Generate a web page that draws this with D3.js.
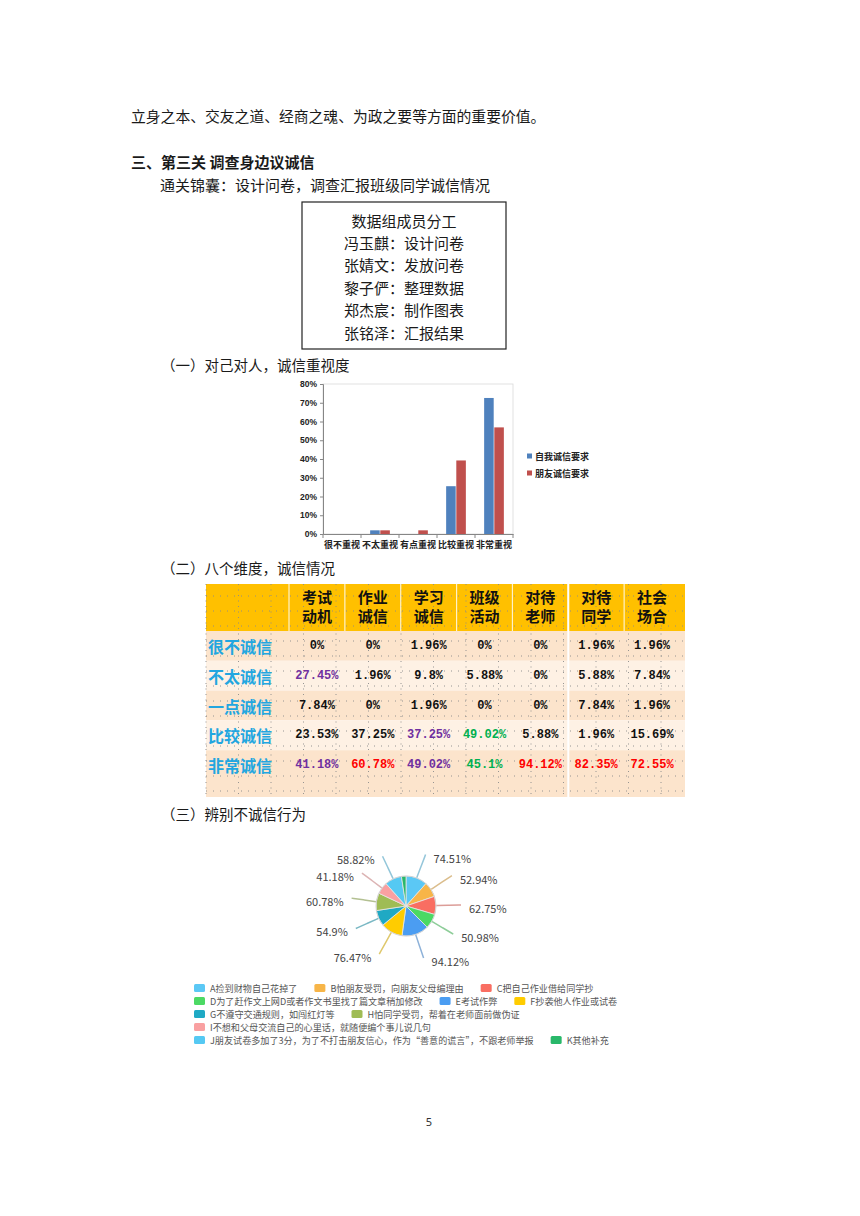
<!DOCTYPE html>
<html><head><meta charset="utf-8">
<script src="https://cdn.jsdelivr.net/npm/d3@7"></script>
<style>
html,body{margin:0;padding:0;background:#fff;}
svg{display:block;}
</style></head><body>
<svg id="page" width="860" height="1216"></svg>
<script>
// ================= DATA =================
const introLine = "立身之本、交友之道、经商之魂、为政之要等方面的重要价值。";
const sectionTitle = "三、第三关 调查身边议诚信";
const tipLine = "通关锦囊：设计问卷，调查汇报班级同学诚信情况";
const teamTitle = "数据组成员分工";
const teamMembers = ["冯玉麒：设计问卷", "张婧文：发放问卷", "黎子俨：整理数据", "郑杰宸：制作图表", "张铭泽：汇报结果"];
const subHeads = ["（一）对己对人，诚信重视度", "（二）八个维度，诚信情况", "（三）辨别不诚信行为"];
const pageNumber = "5";

// Bar chart
const barCategories = ["很不重视", "不太重视", "有点重视", "比较重视", "非常重视"];
const barSeries = ["自我诚信要求", "朋友诚信要求"];
const selfValues = [0, 0.0196, 0, 0.2549, 0.7255];
const friendValues = [0, 0.0196, 0.0196, 0.3922, 0.5686];
const barTicks = [0, 0.1, 0.2, 0.3, 0.4, 0.5, 0.6, 0.7, 0.8];

// Table
const tableColumns = [["考试", "动机"], ["作业", "诚信"], ["学习", "诚信"], ["班级", "活动"], ["对待", "老师"], ["对待", "同学"], ["社会", "场合"]];
const tableRows = ["很不诚信", "不太诚信", "一点诚信", "比较诚信", "非常诚信"];
const rowVeryDishonest = ["0%", "0%", "1.96%", "0%", "0%", "1.96%", "1.96%"];
const rowNotVery = ["27.45%", "1.96%", "9.8%", "5.88%", "0%", "5.88%", "7.84%"];
const rowLittle = ["7.84%", "0%", "1.96%", "0%", "0%", "7.84%", "1.96%"];
const rowFairly = ["23.53%", "37.25%", "37.25%", "49.02%", "5.88%", "1.96%", "15.69%"];
const rowVery = ["41.18%", "60.78%", "49.02%", "45.1%", "94.12%", "82.35%", "72.55%"];
const tableValues = [rowVeryDishonest, rowNotVery, rowLittle, rowFairly, rowVery];

// Pie
const pieKeys = ["A", "B", "C", "D", "E", "F", "G", "H", "I", "J", "K"];
const pieNames = [
  "A捡到财物自己花掉了",
  "B怕朋友受罚，向朋友父母编理由",
  "C把自己作业借给同学抄",
  "D为了赶作文上网D或者作文书里找了篇文章稍加修改",
  "E考试作弊",
  "F抄袭他人作业或试卷",
  "G不遵守交通规则，如闯红灯等",
  "H怕同学受罚，帮着在老师面前做伪证",
  "I不想和父母交流自己的心里话，就随便编个事儿说几句",
  "J朋友试卷多加了3分，为了不打击朋友信心，作为\u201C善意的谎言\u201D，不跟老师举报",
  "K其他补充"
];
const pieValues = [74.51, 52.94, 62.75, 50.98, 94.12, 76.47, 54.9, 60.78, 41.18, 58.82, 15.69];

// ================= STYLE =================
const CJK = "'Noto Sans CJK SC','Noto Sans',sans-serif";
const TEXT = "#1a1a1a";
const barColors = ["#4F81BD", "#C0504D"];
const pieColors = ["#5BC8F5", "#F7B548", "#F96E62", "#4CD964", "#4B9DF2", "#FFCC00", "#1FA9C4", "#9FBC55", "#F9A0A1", "#55C9F3", "#29B86A"];
const cellColor = { "1-0": "#7030A0", "3-2": "#7030A0", "4-0": "#7030A0", "4-2": "#7030A0",
  "3-3": "#00B050", "4-3": "#00B050",
  "4-1": "#FF0000", "4-4": "#FF0000", "4-5": "#FF0000", "4-6": "#FF0000" };

const svg = d3.select("#page");

function text(x, y, s, o = {}) {
  return svg.append("text")
    .attr("x", x).attr("y", y)
    .attr("dominant-baseline", "central")
    .attr("text-anchor", o.anchor || "start")
    .style("font-family", o.font || CJK)
    .style("font-size", (o.size || 15) + "px")
    .style("font-weight", o.weight || "normal")
    .style("fill", o.fill || TEXT)
    .text(s);
}

// ---------- body text ----------
text(131, 115, introLine, { size: 14.8 });
text(131, 161, sectionTitle, { size: 15, weight: "bold" });
text(160, 184, tipLine, { size: 15 });

// team box
const box = { x0: 302, y0: 202, x1: 506, y1: 349 };
svg.append("rect").attr("x", box.x0).attr("y", box.y0)
  .attr("width", box.x1 - box.x0).attr("height", box.y1 - box.y0)
  .attr("fill", "none").attr("stroke", "#222").attr("stroke-width", 1.2);
const boxLines = [teamTitle].concat(teamMembers);
const boxY = d3.scalePoint().domain(d3.range(boxLines.length)).range([220, 332]);
boxLines.forEach((s, i) => text((box.x0 + box.x1) / 2, boxY(i), s, { size: 15, anchor: "middle" }));

text(161, 364, subHeads[0], { size: 14.5 });
text(161, 567, subHeads[1], { size: 14.5 });
text(161, 813, subHeads[2], { size: 14.5 });
text(429, 1121, pageNumber, { size: 11, anchor: "middle", font: "'Noto Sans',sans-serif", fill: "#333" });

// ---------- bar chart ----------
(function () {
  const g = svg.append("g");
  const x = d3.scaleBand().domain(barCategories).range([323, 513]);
  const xs = d3.scaleBand().domain(barSeries).range([0, x.bandwidth()]).paddingInner(0.06).paddingOuter(0.9);
  const y = d3.scaleLinear().domain([0, 0.8]).range([534, 384]);

  // plot area frame
  g.append("rect").attr("x", 323).attr("y", y(0.8)).attr("width", 513 - 323).attr("height", y(0) - y(0.8))
    .attr("fill", "none").attr("stroke", "#d9d9d9").attr("stroke-width", 0.8);

  const seriesVals = [selfValues, friendValues];
  barSeries.forEach((s, si) => {
    g.selectAll(null).data(barCategories).enter().append("rect")
      .attr("x", c => x(c) + xs(s))
      .attr("y", (c, i) => y(seriesVals[si][i]))
      .attr("width", xs.bandwidth())
      .attr("height", (c, i) => y(0) - y(seriesVals[si][i]))
      .attr("fill", barColors[si]);
  });

  const ya = g.append("g").attr("transform", "translate(323,0)")
    .call(d3.axisLeft(y).tickValues(barTicks).tickFormat(d3.format(".0%")).tickSize(3).tickPadding(3));
  ya.select(".domain").attr("stroke", "#868686");
  ya.selectAll(".tick line").attr("stroke", "#868686");
  ya.selectAll("text").style("font-family", "'Liberation Sans',Arial,sans-serif").style("font-size", "8.5px")
    .style("font-weight", "bold").style("fill", "#222");

  const xa = g.append("g").attr("transform", "translate(0,534)")
    .call(d3.axisBottom(x).tickSize(0).tickPadding(8));
  xa.select(".domain").attr("stroke", "#868686");
  xa.selectAll("text").style("font-family", CJK).style("font-size", "9px").style("font-weight", "bold").style("fill", "#222");
  const bounds = barCategories.map(c => x(c)).concat([x.range()[1]]);
  g.selectAll(null).data(bounds).enter().append("line")
    .attr("x1", d => d).attr("x2", d => d).attr("y1", 534).attr("y2", 538)
    .attr("stroke", "#868686");

  // legend
  const ly = d3.scalePoint().domain(barSeries).range([456, 473]);
  barSeries.forEach((s, i) => {
    g.append("rect").attr("x", 527).attr("y", ly(s) - 2.5).attr("width", 5).attr("height", 5).attr("fill", barColors[i]);
    g.append("text").attr("x", 535).attr("y", ly(s)).attr("dominant-baseline", "central")
      .style("font-family", CJK).style("font-size", "9px").style("font-weight", "bold").style("fill", "#222").text(s);
  });
})();

// ---------- table ----------
(function () {
  const g = svg.append("g");
  const left = 206, firstW = 83, right = 680, top = 584, headH = 47;
  const cx = d3.scaleBand().domain(d3.range(tableColumns.length)).range([left + firstW, right]);
  const ry = d3.scaleBand().domain(d3.range(tableRows.length)).range([top + headH, 780]);
  const bottom = 797;
  const peach = "#FCE4CC", light = "#FEF1E4";

  g.append("rect").attr("x", left).attr("y", top).attr("width", 685 - left).attr("height", headH).attr("fill", "#FFC000");
  tableRows.forEach((r, i) => {
    g.append("rect").attr("x", left).attr("y", ry(i)).attr("width", 685 - left).attr("height", ry.bandwidth())
      .attr("fill", i % 2 === 0 ? peach : light);
  });
  g.append("rect").attr("x", left).attr("y", 780).attr("width", 685 - left).attr("height", bottom - 780).attr("fill", peach);

  // dotted excel-like grid
  const dotV = d3.range(left, 686, 32.5);
  g.selectAll(null).data(dotV).enter().append("line")
    .attr("x1", d => d).attr("x2", d => d).attr("y1", top).attr("y2", bottom)
    .attr("stroke", "#8a8a8a").attr("stroke-width", 0.9).attr("stroke-dasharray", "1,4.5");
  const dotH = d3.range(top + 12, bottom, 15);
  g.selectAll(null).data(dotH).enter().append("line")
    .attr("x1", left).attr("x2", 685).attr("y1", d => d).attr("y2", d => d)
    .attr("stroke", "#8a8a8a").attr("stroke-width", 0.9).attr("stroke-dasharray", "1,6");

  // column separators
  const seps = tableColumns.map((c, j) => cx(j));
  g.selectAll(null).data(seps).enter().append("line")
    .attr("x1", d => d).attr("x2", d => d).attr("y1", top).attr("y2", top + headH)
    .attr("stroke", "#fff2c8").attr("stroke-width", 1.2);
  g.append("line").attr("x1", cx(5)).attr("x2", cx(5)).attr("y1", top).attr("y2", bottom)
    .attr("stroke", "#ffffff").attr("stroke-width", 2);

  // header text
  tableColumns.forEach((c, j) => {
    c.forEach((s, k) => {
      g.append("text").attr("x", cx(j) + cx.bandwidth() / 2).attr("y", top + 12.5 + k * 19)
        .attr("text-anchor", "middle").attr("dominant-baseline", "central")
        .style("font-family", CJK).style("font-size", "15px").style("font-weight", "bold").style("fill", "#111").text(s);
    });
  });
  // row labels
  tableRows.forEach((r, i) => {
    g.append("text").attr("x", left + 2).attr("y", ry(i) + ry.bandwidth() / 2)
      .attr("dominant-baseline", "central")
      .style("font-family", CJK).style("font-size", "16px").style("font-weight", "bold").style("fill", "#22A6E0").text(r);
  });
  // values
  tableValues.forEach((row, i) => {
    row.forEach((v, j) => {
      g.append("text").attr("x", cx(j) + cx.bandwidth() / 2).attr("y", ry(i) + ry.bandwidth() / 2)
        .attr("text-anchor", "middle").attr("dominant-baseline", "central")
        .style("font-family", "'Liberation Mono','DejaVu Sans Mono',monospace").style("font-size", "12px")
        .style("font-weight", "bold").style("fill", cellColor[i + "-" + j] || "#111").text(v);
    });
  });
})();

// ---------- pie chart ----------
(function () {
  const g = svg.append("g").attr("transform", "translate(406,906)");
  const r = 30;
  const pie = d3.pie().sort(null).value(d => d.v);
  const data = pieKeys.map((k, i) => ({ k, v: pieValues[i], c: pieColors[i] }));
  const arcs = pie(data);
  const arc = d3.arc().innerRadius(0).outerRadius(r);
  const pt = (a, rad) => [Math.sin(a) * rad, -Math.cos(a) * rad];

  arcs.forEach(a => {
    if (a.endAngle - a.startAngle < 0.17) return;
    const m = (a.startAngle + a.endAngle) / 2;
    const p0 = pt(m, r), p1 = pt(m, r + 12), p2 = pt(m, r + 25);
    g.append("path").attr("d", d3.line().curve(d3.curveBasis)([p0, p1, p2]))
      .attr("fill", "none").attr("stroke", d3.interpolateRgb(a.data.c, "#c4c4c4")(0.55)).attr("stroke-width", 1.5);
    const rightSide = p2[0] >= 0;
    g.append("text").attr("x", p2[0] + (rightSide ? 8 : -8)).attr("y", p2[1] + 3)
      .attr("text-anchor", rightSide ? "start" : "end").attr("dominant-baseline", "central")
      .style("font-family", CJK).style("font-size", "11px").style("fill", "#444")
      .text(d3.format(".4~f")(a.data.v) + "%");
  });

  g.selectAll(null).data(arcs).enter().append("path")
    .attr("d", arc).attr("fill", d => d.data.c).attr("stroke", "#e6e6e6").attr("stroke-width", 0.8);
  g.append("circle").attr("r", r).attr("fill", "none").attr("stroke", "#cfcfcf").attr("stroke-width", 0.8);

  // legend (flow layout)
  const lg = svg.append("g");
  const startX = 194, maxX = 660, rowH = 13, sw = 11, sh = 8, gap = 17;
  let cx = startX, cy = 988;
  pieNames.forEach((name, i) => {
    const item = lg.append("g");
    item.append("rect").attr("x", 0).attr("y", -sh / 2).attr("width", sw).attr("height", sh).attr("rx", 1.5)
      .attr("fill", pieColors[i]);
    const t = item.append("text").attr("x", sw + 5).attr("y", 0).attr("dominant-baseline", "central")
      .style("font-family", CJK).style("font-size", "9.1px").style("fill", "#555").text(name);
    const w = sw + 5 + t.node().getComputedTextLength();
    if (cx > startX && cx + w > maxX) { cx = startX; cy += rowH; }
    item.attr("transform", `translate(${cx},${cy})`);
    cx += w + gap;
  });
})();
</script>
</body></html>
